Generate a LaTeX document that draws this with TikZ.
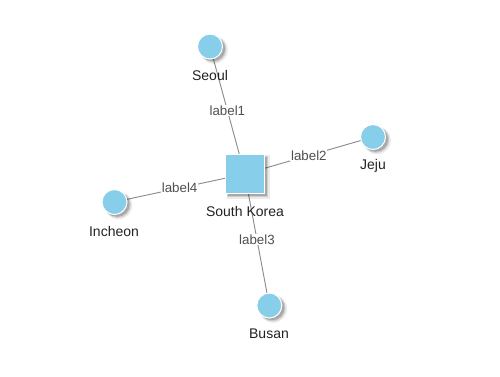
\documentclass[tikz,border=0pt]{standalone}
\usepackage{fontspec}
\setmainfont{Liberation Sans}
\usepackage{xcolor}
\usepackage{tikz}
\usetikzlibrary{shadows, backgrounds}

\definecolor{skyfill}{HTML}{87CEEB}
\definecolor{edgegray}{HTML}{8C8C8C}
\definecolor{nametext}{HTML}{222222}
\definecolor{lbltext}{HTML}{505050}

\begin{document}
\begin{tikzpicture}[
  x=0.75pt, y=-0.75pt,
  soft/.style={drop shadow={shadow xshift=2.6pt, shadow yshift=-2.2pt, shadow scale=1.12,
                 fill=black, opacity=0.08},
               drop shadow={shadow xshift=2.3pt, shadow yshift=-2pt, shadow scale=1.05,
                 fill=black, opacity=0.12},
               drop shadow={shadow xshift=2pt, shadow yshift=-1.7pt,
                 fill=black, opacity=0.18}},
  city/.style={circle, draw=white, line width=0.8pt, fill=skyfill, minimum size=18.75pt,
               inner sep=0pt, soft},
  country/.style={rectangle, draw=white, line width=0.8pt, fill=skyfill, minimum size=29.25pt,
                  inner sep=0pt, soft},
  cityname/.style={font=\fontsize{10.5}{12}\selectfont, text=nametext, inner sep=0pt},
  link/.style={draw=edgegray, line width=0.7pt},
  elabel/.style={fill=white, inner sep=0.6pt, font=\fontsize{10}{12}\selectfont, text=lbltext}
]
\useasboundingbox (0,0) rectangle (500,376);

% Country in the middle
\node[country] (korea) at (244.7,174) {};
\node[cityname] (koreaname) at (245,211) {South Korea};

% Cities round it
\node[city] (seoul)   at (210,46.5)  {};
\node[city] (jeju)    at (373,137)   {};
\node[city] (busan)   at (269.3,305.5) {};
\node[city] (incheon) at (114.5,202) {};

% City names
\node[cityname] (seoulname)   at (210,75)  {Seoul};
\node[cityname] (jejuname)    at (373,166) {Jeju};
\node[cityname] (busanname)   at (269,334) {Busan};
\node[cityname] (incheonname) at (114,231) {Incheon};

% Links, kept behind the nodes
\begin{scope}[on background layer]
\draw[link] (korea.center) -- node[elabel] (lbla) {label1} (seoul.center);
\draw[link] (korea.center) -- node[elabel] (lblb) {label2} (jeju.center);
\draw[link] (korea.center) -- node[elabel] (lblc) {label3} (busan.center);
\draw[link] (korea.center) -- node[elabel] (lbld) {label4} (incheon.center);
\end{scope}
\end{tikzpicture}
\end{document}
